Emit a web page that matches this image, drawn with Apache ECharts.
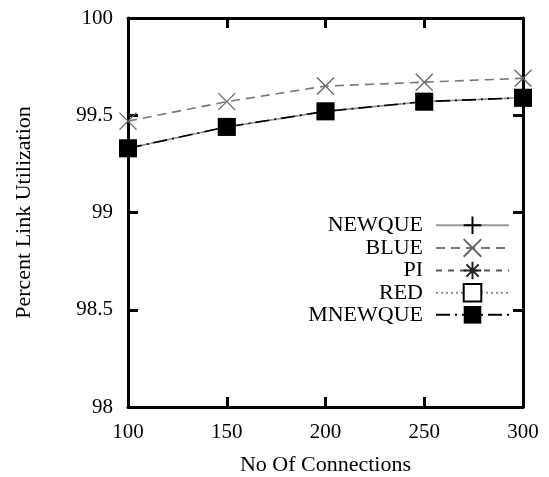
<!DOCTYPE html>
<html>
<head>
<meta charset="utf-8">
<script src="https://cdn.jsdelivr.net/npm/echarts@6/dist/echarts.min.js"></script>
<style>
  html, body { margin: 0; padding: 0; background: #fff; }
  #chart { width: 549px; height: 477px; }
</style>
</head>
<body>
<div id="chart"></div>
<script>
// Number of TCP connections on the x axis
const connections = [100, 150, 200, 250, 300];

// Percent link utilization per queue scheme
const newque  = [99.33, 99.44, 99.52, 99.57, 99.59];
const blue    = [99.47, 99.57, 99.65, 99.67, 99.69];
const pi      = [];
const red     = [99.33, 99.44, 99.52, 99.57, 99.59];
const mnewque = [99.33, 99.44, 99.52, 99.57, 99.59];

const seriesNames = ['NEWQUE', 'BLUE', 'PI', 'RED', 'MNEWQUE'];
const xTicks = [100, 150, 200, 250, 300];
const yTicks = [98, 98.5, 99, 99.5, 100];

const pairs = vals => vals.map((v, i) => [connections[i], v]);

const FONT = '"Liberation Serif", "DejaVu Serif", serif';
const AX = '#000';

const frameAxis = (extra) => Object.assign({
  type: 'value',
  axisLine: { show: true, onZero: false, lineStyle: { color: AX, width: 3 } },
  axisTick: { show: true, inside: true, length: 10, lineStyle: { color: AX, width: 3 } },
  splitLine: { show: false },
  axisLabel: { show: false }
}, extra);

const stroked = (color, w) => ({ color: 'none', borderColor: color, borderWidth: w });

const option = {
  animation: false,
  backgroundColor: '#fff',
  grid: { left: 128, right: 26, top: 18, bottom: 70, outerBoundsMode: 'none', containLabel: false },
  legend: {
    orient: 'vertical',
    right: 39,
    top: 214,
    padding: 0,
    align: 'right',
    itemWidth: 73,
    itemHeight: 22,
    itemGap: 0,
    data: seriesNames,
    textStyle: { fontFamily: FONT, fontSize: 22, lineHeight: 22, color: '#000', padding: [0, 8, 0, 0] }
  },
  xAxis: [
    frameAxis({
      min: xTicks[0], max: xTicks[xTicks.length - 1], interval: 50,
      position: 'bottom',
      name: 'No Of Connections', nameLocation: 'middle', nameGap: 47,
      nameTextStyle: { fontFamily: FONT, fontSize: 22, color: '#000' },
      axisLabel: { show: true, margin: 15, fontFamily: FONT, fontSize: 21, color: '#000' }
    }),
    frameAxis({ min: xTicks[0], max: xTicks[xTicks.length - 1], interval: 50, position: 'top' })
  ],
  yAxis: [
    frameAxis({
      min: yTicks[0], max: yTicks[yTicks.length - 1], interval: 0.5,
      position: 'left',
      name: 'Percent Link Utilization', nameLocation: 'middle', nameGap: 93,
      nameTextStyle: { fontFamily: FONT, fontSize: 22, color: '#000' },
      axisLabel: { show: true, margin: 15, fontFamily: FONT, fontSize: 21, color: '#000' }
    }),
    frameAxis({ min: yTicks[0], max: yTicks[yTicks.length - 1], interval: 0.5, position: 'right' })
  ],
  series: [
    {
      name: 'NEWQUE', type: 'line', data: pairs(newque),
      symbol: 'path://M0,10L20,10M10,0L10,20', symbolSize: 16,
      itemStyle: stroked('#000', 1.3),
      lineStyle: { color: '#999', width: 1.6, type: 'solid' }
    },
    {
      name: 'BLUE', type: 'line', data: pairs(blue),
      symbol: 'path://M0,0L20,20M20,0L0,20', symbolSize: 17,
      itemStyle: stroked('#666', 1.3),
      lineStyle: { color: '#777', width: 1.6, type: [9, 6] }
    },
    {
      name: 'PI', type: 'line', data: pairs(pi),
      symbol: 'path://M0,10L20,10M10,0L10,20M3,3L17,17M17,3L3,17', symbolSize: 17,
      itemStyle: stroked('#222', 1.3),
      lineStyle: { color: '#555', width: 1.3, type: [6, 6] }
    },
    {
      name: 'RED', type: 'line', data: pairs(red),
      symbol: 'rect', symbolSize: 16,
      itemStyle: { color: '#fff', borderColor: '#000', borderWidth: 1.3 },
      lineStyle: { color: '#888', width: 1.3, type: [2, 3] }
    },
    {
      name: 'MNEWQUE', type: 'line', data: pairs(mnewque),
      symbol: 'rect', symbolSize: 18,
      itemStyle: { color: '#000', borderColor: '#000', borderWidth: 0 },
      lineStyle: { color: '#000', width: 1.6, type: [14, 5, 2, 5] }
    }
  ]
};

const chart = echarts.init(document.getElementById('chart'), null, { renderer: 'canvas' });
chart.setOption(option);
</script>
</body>
</html>
